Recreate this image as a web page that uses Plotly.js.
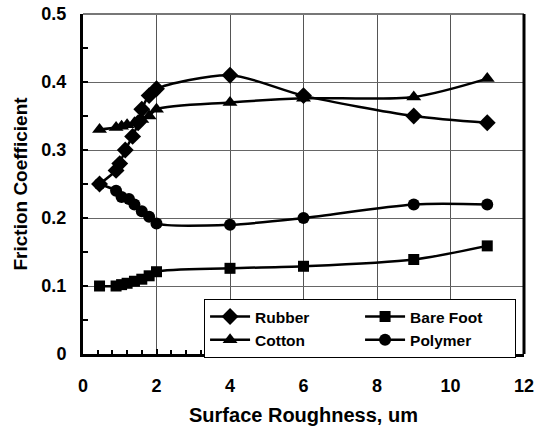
<!DOCTYPE html>
<html>
<head>
<meta charset="utf-8">
<script src="https://cdn.plot.ly/plotly-3.0.1.min.js"></script>
<style>html,body{margin:0;padding:0;background:#fff;}#chart{width:539px;height:431px;}</style>
</head>
<body>
<div id="chart"></div>
<script>
const rubberX = [0.45, 0.9, 1.0, 1.15, 1.35, 1.5, 1.6, 1.8, 2, 4, 6, 9, 11];
const rubberY = [0.25, 0.27, 0.28, 0.30, 0.32, 0.34, 0.36, 0.38, 0.39, 0.41, 0.38, 0.35, 0.34];
const bareFootX = [0.45, 0.9, 1.05, 1.2, 1.4, 1.6, 1.8, 2, 4, 6, 9, 11];
const bareFootY = [0.10, 0.10, 0.102, 0.104, 0.107, 0.11, 0.115, 0.121, 0.126, 0.129, 0.139, 0.159];
const cottonX = [0.45, 0.9, 1.05, 1.2, 1.4, 1.6, 1.8, 2, 4, 6, 9, 11];
const cottonY = [0.33, 0.333, 0.335, 0.337, 0.34, 0.345, 0.35, 0.36, 0.37, 0.376, 0.378, 0.405];
const polymerX = [0.45, 0.9, 1.05, 1.25, 1.4, 1.6, 1.8, 2, 4, 6, 9, 11];
const polymerY = [0.25, 0.24, 0.231, 0.228, 0.22, 0.21, 0.202, 0.192, 0.19, 0.2, 0.22, 0.22];

const FONT = 'Liberation Sans, Arial, sans-serif';
function tr(name, x, y, symbol, size) {
  return {
    type: 'scatter', mode: 'lines+markers', name: name, x: x, y: y,
    line: {color: '#000', width: 2.5, shape: 'spline', smoothing: 0.8},
    marker: {symbol: symbol, size: size, color: '#000'}
  };
}
const data = [
  tr('Rubber', rubberX, rubberY, 'diamond', 13),
  tr('Bare Foot', bareFootX, bareFootY, 'square', 11),
  tr('Cotton', cottonX, cottonY, 'triangle-up', 13),
  tr('Polymer', polymerX, polymerY, 'circle', 12)
];
const layout = {
  width: 539, height: 431,
  margin: {l: 83, r: 15, t: 14, b: 77},
  paper_bgcolor: '#fff', plot_bgcolor: '#fff',
  font: {family: FONT, color: '#000', size: 16},
  showlegend: true,
  legend: {
    orientation: 'h', x: 0.982, xanchor: 'right', y: 0.162, yanchor: 'top',
    bgcolor: '#fff', bordercolor: '#000', borderwidth: 1,
    font: {family: FONT, size: 15.5, color: '#000', weight: 'bold'},
    entrywidth: 100, entrywidthmode: 'pixels', itemwidth: 40,
    tracegroupgap: 0
  },
  xaxis: {
    range: [0, 12], dtick: 2, tick0: 0,
    showline: true, linecolor: '#000', linewidth: 3,
    ticks: 'inside', ticklen: 5, tickwidth: 2, tickcolor: '#000',
    minor: {dtick: 0.4, ticks: 'inside', ticklen: 4, tickwidth: 2, tickcolor: '#000', showgrid: false},
    showgrid: true, gridcolor: '#555', gridwidth: 1,
    zeroline: false,
    tickfont: {family: FONT, size: 18, color: '#000', weight: 'bold'},
    ticklabelstandoff: 13,
    title: {text: 'Surface Roughness, um', font: {family: FONT, size: 20, color: '#000', weight: 'bold'}, standoff: 14}
  },
  yaxis: {
    range: [0, 0.5], dtick: 0.1, tick0: 0,
    showline: true, linecolor: '#000', linewidth: 3,
    ticks: 'inside', ticklen: 5, tickwidth: 2, tickcolor: '#000',
    minor: {dtick: 0.05, ticks: 'inside', ticklen: 5, tickwidth: 2, tickcolor: '#000', showgrid: false},
    showgrid: true, gridcolor: '#666', gridwidth: 1,
    zeroline: false,
    tickfont: {family: FONT, size: 18, color: '#000', weight: 'bold'},
    ticklabelstandoff: 10,
    title: {text: 'Friction Coefficient', font: {family: FONT, size: 19, color: '#000', weight: 'bold'}, standoff: 9}
  },
  shapes: [
    {type: 'line', xref: 'paper', yref: 'paper', x0: 0, x1: 1, y0: 1, y1: 1, line: {color: '#777', width: 2}},
    {type: 'line', xref: 'paper', yref: 'paper', x0: 1, x1: 1, y0: 0, y1: 1, line: {color: '#000', width: 3}}
  ]
};
Plotly.newPlot('chart', data, layout, {displayModeBar: false, staticPlot: true});
</script>
</body>
</html>
